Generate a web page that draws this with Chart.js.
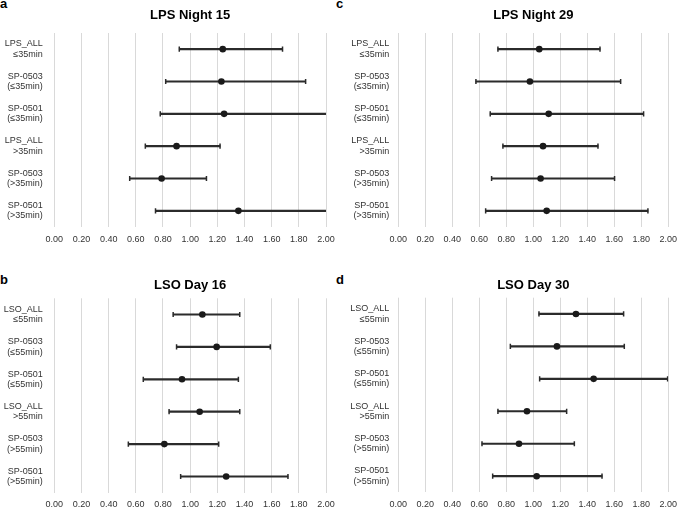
<!DOCTYPE html>
<html lang="en">
<head>
  <meta charset="UTF-8">
  <title>Forest plots</title>
  <script src="https://cdn.jsdelivr.net/npm/chart.js"></script>
  <style>
    body { margin: 0; background: #fff; width: 677px; height: 510px; overflow: hidden; position: relative; }
    canvas { position: absolute; }
    .tag { position: absolute; font: bold 13px "Liberation Sans", Arial, sans-serif; line-height: 13px; color: #000; }
  </style>
</head>
<body>

<div class="tag" style="left:0px;top:-3px">a</div>
<div class="tag" style="left:336px;top:-3px">c</div>
<div class="tag" style="left:0px;top:273px">b</div>
<div class="tag" style="left:336px;top:273px">d</div>

<canvas id="chartA" width="337" height="255" style="left:0;top:0"></canvas>
<canvas id="chartC" width="340" height="255" style="left:337px;top:0"></canvas>
<canvas id="chartB" width="337" height="260" style="left:0;top:255px"></canvas>
<canvas id="chartD" width="340" height="260" style="left:337px;top:255px"></canvas>

<script>
  // category labels
  const lpsLabels = [
    ['LPS_ALL', '\u226435min'], ['SP-0503', '(\u226435min)'], ['SP-0501', '(\u226435min)'],
    ['LPS_ALL', '>35min'], ['SP-0503', '(>35min)'], ['SP-0501', '(>35min)']
  ];
  const lsoLabels = [
    ['LSO_ALL', '\u226455min'], ['SP-0503', '(\u226455min)'], ['SP-0501', '(\u226455min)'],
    ['LSO_ALL', '>55min'], ['SP-0503', '(>55min)'], ['SP-0501', '(>55min)']
  ];
  const xTickLabels = ['0.00', '0.20', '0.40', '0.60', '0.80', '1.00', '1.20', '1.40', '1.60', '1.80', '2.00'];

  // a: LPS Night 15 (upper ends beyond 2.00 are cut off in the original)
  const night15Est  = [1.24, 1.23, 1.25, 0.90, 0.79, 1.355];
  const night15Low  = [0.92, 0.82, 0.78, 0.67, 0.555, 0.745];
  const night15High = [1.68, 1.85, 2.20, 1.22, 1.12, 2.10];

  // c: LPS Night 29
  const night29Est  = [1.044, 0.975, 1.114, 1.072, 1.054, 1.099];
  const night29Low  = [0.738, 0.575, 0.681, 0.775, 0.691, 0.647];
  const night29High = [1.494, 1.647, 1.817, 1.479, 1.602, 1.849];

  // b: LSO Day 16
  const day16Est  = [1.09, 1.195, 0.94, 1.07, 0.81, 1.265];
  const day16Low  = [0.875, 0.90, 0.655, 0.845, 0.545, 0.93];
  const day16High = [1.365, 1.59, 1.355, 1.365, 1.21, 1.72];

  // d: LSO Day 30
  const day30Est  = [1.316, 1.175, 1.447, 0.953, 0.894, 1.025];
  const day30Low  = [1.042, 0.830, 1.047, 0.738, 0.620, 0.699];
  const day30High = [1.669, 1.674, 1.995, 1.247, 1.304, 1.509];

  const FONT = '"Liberation Sans", Arial, sans-serif';

  function forest(id, title, labels, est, low, high, g) {
    const lh = 10.8;
    const tickPad = g.tickY - g.bottom - lh / 2;
    const xh = tickPad + lh;
    const titleLh = 15.6;
    const tTop = g.titleY - titleLh / 2;
    const tBottom = g.top - tTop - titleLh;

    new Chart(document.getElementById(id), {
      type: 'bar',
      data: {
        labels: labels,
        datasets: [
          {
            type: 'bar',
            data: low.map((v, i) => [v, high[i]]),
            backgroundColor: '#2b2b2b',
            borderWidth: 0,
            barThickness: 1.5,
            order: 3
          },
          {
            type: 'line',
            data: low,
            showLine: false,
            pointStyle: 'line',
            rotation: 90,
            pointRadius: 2.6,
            borderColor: '#2b2b2b',
            pointBorderWidth: 1.5,
            order: 2
          },
          {
            type: 'line',
            data: high,
            showLine: false,
            pointStyle: 'line',
            rotation: 90,
            pointRadius: 2.6,
            borderColor: '#2b2b2b',
            pointBorderWidth: 1.5,
            order: 2
          },
          {
            type: 'line',
            data: est,
            showLine: false,
            pointStyle: 'circle',
            pointRadius: 3.3,
            pointBackgroundColor: '#1a1a1a',
            pointBorderColor: '#1a1a1a',
            pointBorderWidth: 0,
            order: 1
          }
        ]
      },
      options: {
        indexAxis: 'y',
        responsive: false,
        animation: false,
        layout: {
          padding: { left: 0, right: g.w - g.right, top: 0, bottom: g.h - g.bottom - xh }
        },
        plugins: {
          legend: { display: false },
          tooltip: { enabled: false },
          title: {
            display: true,
            fullSize: false,
            text: title,
            color: '#000',
            font: { family: FONT, size: 13, weight: 'bold' },
            padding: { top: tTop, bottom: tBottom }
          }
        },
        scales: {
          x: {
            type: 'linear',
            min: 0,
            max: 2,
            ticks: {
              stepSize: 0.2,
              padding: tickPad,
              color: '#333',
              font: { family: FONT, size: 9 },
              callback: (v, i) => xTickLabels[i]
            },
            grid: { color: '#d9d9d9', lineWidth: 1, drawTicks: false },
            border: { display: false },
            afterFit: s => { s.height = xh; s.paddingLeft = 0; s.paddingRight = 0; }
          },
          y: {
            type: 'category',
            ticks: {
              padding: g.gap,
              color: '#333',
              font: { family: FONT, size: 9, lineHeight: 1.15 }
            },
            grid: { display: false, drawTicks: false },
            border: { display: false },
            afterFit: s => { s.width = g.left; s.paddingTop = 0; s.paddingBottom = 0; }
          }
        }
      }
    });
  }

  forest('chartA', 'LPS Night 15', lpsLabels, night15Est, night15Low, night15High,
    { w: 337, h: 255, left: 54.3, right: 326, top: 33, bottom: 227, titleY: 15, tickY: 240, gap: 11.5 });
  forest('chartC', 'LPS Night 29', lpsLabels, night29Est, night29Low, night29High,
    { w: 340, h: 255, left: 61.3, right: 331.3, top: 33, bottom: 227, titleY: 15, tickY: 240, gap: 9 });
  forest('chartB', 'LSO Day 16', lsoLabels, day16Est, day16Low, day16High,
    { w: 337, h: 260, left: 54.3, right: 326, top: 43.3, bottom: 237.7, titleY: 30, tickY: 250, gap: 11.5 });
  forest('chartD', 'LSO Day 30', lsoLabels, day30Est, day30Low, day30High,
    { w: 340, h: 260, left: 61.3, right: 331.3, top: 42.7, bottom: 237.4, titleY: 30, tickY: 250, gap: 9 });
</script>

</body>
</html>
